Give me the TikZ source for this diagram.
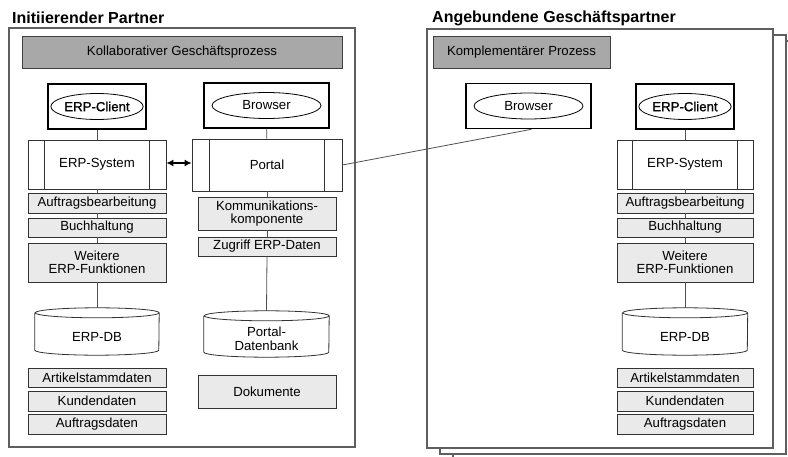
\documentclass[tikz,border=0pt]{standalone}
\usepackage{fontspec}
\setmainfont{Liberation Sans}
\newfontfamily\dickfont[FakeBold=1.2]{Liberation Sans}
\usetikzlibrary{shapes,arrows,arrows.meta}

\definecolor{kopfgrau}{RGB}{168,168,168}
\definecolor{hellgrau}{RGB}{234,234,234}
\definecolor{rahmengrau}{RGB}{95,95,95}
\definecolor{liniengrau}{RGB}{80,80,80}

\tikzset{
	rahmen/.style={draw=rahmengrau,line width=1.5pt,fill=white},
	titel/.style={anchor=west,inner sep=0pt,font=\fontsize{16}{18}\selectfont\bfseries},
	kopf/.style={draw=black!75,line width=0.8pt,fill=kopfgrau,inner sep=0pt,font=\fontsize{13.2}{15}\selectfont},
	fkt/.style={draw=black!80,line width=0.8pt,fill=hellgrau,inner sep=0pt,align=center,
		minimum width=138pt,font=\fontsize{13.2}{15}\selectfont},
	prozess/.style={draw=black!80,line width=0.8pt,fill=white,inner sep=0pt,
		minimum height=50pt,font=\fontsize{13.2}{15}\selectfont},
	klient/.style={draw=black,line width=1.6pt,fill=white,minimum height=45pt,inner sep=0pt},
	oval/.style={ellipse,draw=black,line width=0.8pt,inner sep=0pt,minimum height=26pt,
		font=\fontsize{13.2}{15}\selectfont},
	dbtext/.style={inner sep=0pt,align=center,font=\fontsize{13.2}{15}\selectfont},
	dblinie/.style={draw=black!80,line width=0.8pt},
	verbindung/.style={draw=liniengrau,line width=0.8pt}
}

% Umriss einer Datenbank um einen Knoten (Knoten = Koerper unter dem Deckel)
\newcommand{\dbumriss}[2]{%
	\draw[dblinie] ([yshift=5pt]#1.north west) -- ([yshift=5pt]#1.south west)
		arc[start angle=180,end angle=360,x radius=#2,y radius=5pt]
		-- ([yshift=5pt]#1.north east)
		arc[start angle=0,end angle=180,x radius=#2,y radius=5pt]
		arc[start angle=180,end angle=360,x radius=#2,y radius=5pt];
}

\begin{document}
\begin{tikzpicture}[x=1pt,y=-1pt]
	\clip (0,0) rectangle (788,457);

	% Rahmen
	\draw[rahmen] (9,28) rectangle (355,447);
	\draw[rahmen] (453,41) rectangle (799,460);
	\draw[rahmen] (440,35) rectangle (786,454);
	\draw[rahmen] (427,29) rectangle (773,448);
	\node[titel] (tinit) at (12,18) {Initiierender Partner};
	\node[titel] (tang) at (432,18) {Angebundene Geschäftspartner};

	% initiierender Partner
	\node[kopf,minimum width=320pt,minimum height=32pt] (kollab) at (182,52) {Kollaborativer Geschäftsprozess};

	\node[klient,minimum width=98pt] (clientL) at (97,106.5) {};
	\node[oval,minimum width=88pt] (clientLe) at (clientL) {\dickfont ERP-Client};
	\node[klient,minimum width=125pt] (browserL) at (266.5,105.5) {};
	\node[oval,minimum width=109pt] (browserLe) at (browserL) {Browser};

	\node[prozess,minimum width=138pt,minimum height=49pt] (erpsysL) at (97,164.5) {ERP-System};
	\node[prozess,minimum width=150pt,minimum height=52pt] (portal) at (267,165) {Portal};

	\node[fkt,minimum height=20pt] (auftragL) at (97,203) {Auftragsbearbeitung};
	\node[fkt,minimum height=19pt] (buchL) at (97,227.5) {Buchhaltung};
	\node[fkt,minimum height=39pt] (weiterL) at (97,262.5) {Weitere\\[-2pt]ERP-Funktionen};
	\node[dbtext,minimum width=124pt,minimum height=37pt] (erpdbL) at (97,336.5) {ERP-DB};
	\node[fkt,minimum height=19pt] (artikelL) at (97,377.5) {Artikelstammdaten};
	\node[fkt,minimum height=20pt] (kundenL) at (97,401) {Kundendaten};
	\node[fkt,minimum height=20pt] (adatenL) at (97,424) {Auftragsdaten};

	\node[fkt,minimum height=33pt] (komm) at (267,213.5) {Kommunikations-\\[-2pt]komponente};
	\node[fkt,minimum height=19pt] (zugriff) at (267,246.5) {Zugriff ERP-Daten};
	\node[dbtext,minimum width=125pt,minimum height=36pt] (portaldb) at (266.5,339) {Portal-\\[-1pt]Datenbank};
	\node[fkt,minimum height=33pt] (doku) at (267,391.5) {Dokumente};

	% angebundener Partner
	\node[kopf,minimum width=177pt,minimum height=32pt] (kompl) at (521.5,52) {Komplementärer Prozess};
	\node[klient,minimum width=125pt] (browserR) at (528.5,106) {};
	\node[oval,minimum width=109pt] (browserRe) at (browserR) {Browser};
	\node[klient,minimum width=98pt] (clientR) at (685,106.5) {};
	\node[oval,minimum width=88pt] (clientRe) at (clientR) {\dickfont ERP-Client};

	\node[prozess,minimum width=136pt,minimum height=49pt] (erpsysR) at (685,164.5) {ERP-System};
	\node[fkt,minimum width=136pt,minimum height=20pt] (auftragR) at (685,203) {Auftragsbearbeitung};
	\node[fkt,minimum width=136pt,minimum height=19pt] (buchR) at (685,227.5) {Buchhaltung};
	\node[fkt,minimum width=136pt,minimum height=39pt] (weiterR) at (685,262.5) {Weitere\\[-2pt]ERP-Funktionen};
	\node[dbtext,minimum width=125pt,minimum height=37pt] (erpdbR) at (685,336.5) {ERP-DB};
	\node[fkt,minimum width=136pt,minimum height=19pt] (artikelR) at (685,377.5) {Artikelstammdaten};
	\node[fkt,minimum width=136pt,minimum height=20pt] (kundenR) at (685,401) {Kundendaten};
	\node[fkt,minimum width=136pt,minimum height=20pt] (adatenR) at (685,424) {Auftragsdaten};

	% Datenbanken
	\dbumriss{erpdbL}{62pt}
	\dbumriss{portaldb}{62.5pt}
	\dbumriss{erpdbR}{62.5pt}

	% senkrechte Striche der Prozessknoten
	\foreach \n/\d in {erpsysL/17pt,portal/18pt,erpsysR/16pt}{
		\draw[black!80,line width=0.8pt] ([xshift=\d]\n.north west) -- ([xshift=\d]\n.south west);
		\draw[black!80,line width=0.8pt] ([xshift=-\d]\n.north east) -- ([xshift=-\d]\n.south east);
	}

	% Verbindungen
	\draw[verbindung] (clientL) -- (erpsysL);
	\draw[verbindung] (erpsysL) -- (auftragL);
	\draw[verbindung] (auftragL) -- (buchL);
	\draw[verbindung] (buchL) -- (weiterL);
	\draw[verbindung] (weiterL.south) -- ([yshift=10pt]erpdbL.north);
	\draw[verbindung] (browserL) -- (portal);
	\draw[verbindung] (portal) -- (komm);
	\draw[verbindung] (komm) -- (zugriff);
	\draw[verbindung] (zugriff.south) -- ([yshift=10pt]portaldb.north);
	\draw[verbindung] (clientR) -- (erpsysR);
	\draw[verbindung] (erpsysR) -- (auftragR);
	\draw[verbindung] (auftragR) -- (buchR);
	\draw[verbindung] (buchR) -- (weiterR);
	\draw[verbindung] (weiterR.south) -- ([yshift=10pt]erpdbR.north);

	\draw[{Latex[length=7pt,width=7pt]}-{Latex[length=7pt,width=7pt]},line width=1.5pt]
		([yshift=1.5pt]erpsysL.east) -- ([yshift=1.5pt]erpsysL.east -| portal.west);
	\draw[verbindung] (portal.east) -- ([xshift=3pt]browserR.south);
\end{tikzpicture}
\end{document}
